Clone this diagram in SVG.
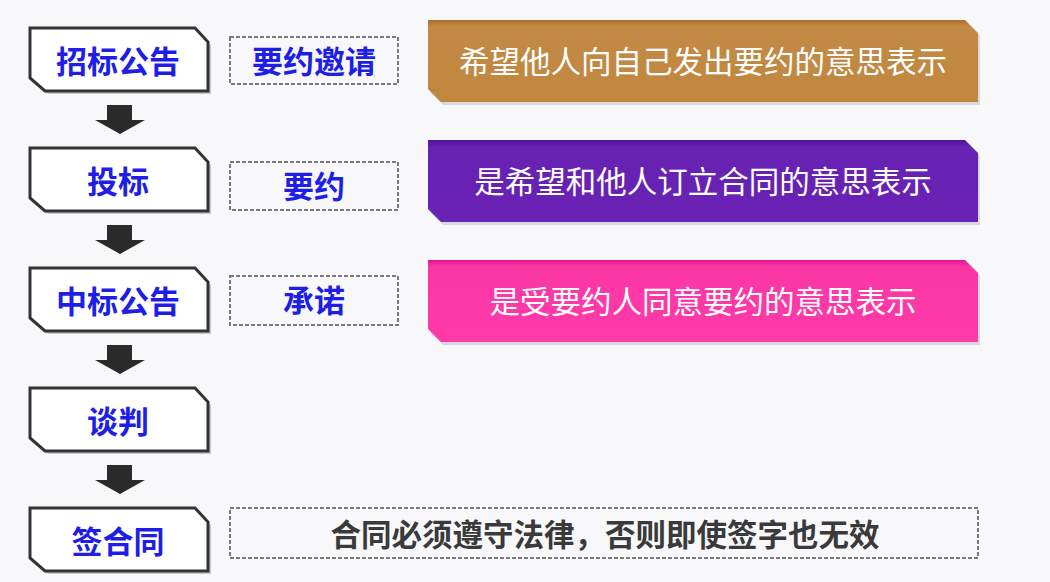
<svg xmlns="http://www.w3.org/2000/svg" width="1050" height="582" viewBox="0 0 1050 582">
<defs>
<style>
.node{fill:#fff;stroke:#333;stroke-width:3;}
.shadow{fill:#c8c8cc;}
.lbl{font-family:"Noto Sans CJK SC","Liberation Sans",sans-serif;font-weight:700;font-size:31px;fill:#1e1ee6;text-anchor:middle;}
.dash{fill:none;stroke:#7a7a7a;stroke-width:2;stroke-dasharray:4 2;}
.desc{font-family:"Noto Sans CJK SC","Liberation Sans",sans-serif;font-weight:400;font-size:30.5px;fill:#fff;text-anchor:middle;}
.note{font-family:"Noto Sans CJK SC","Liberation Sans",sans-serif;font-weight:700;font-size:30.5px;fill:#3a3a3a;text-anchor:middle;}
.arrow{fill:#2b2b2b;}
.boxshadow{fill:#d8d8de;}
</style>
<linearGradient id="gOrange" x1="0" y1="0" x2="0" y2="1">
<stop offset="0" stop-color="#a86e2a"/><stop offset="0.08" stop-color="#c28a45"/><stop offset="1" stop-color="#c0873f"/>
</linearGradient>
<linearGradient id="gPurple" x1="0" y1="0" x2="0" y2="1">
<stop offset="0" stop-color="#4a1690"/><stop offset="0.08" stop-color="#6622b2"/><stop offset="1" stop-color="#6a22b4"/>
</linearGradient>
<linearGradient id="gPink" x1="0" y1="0" x2="0" y2="1">
<stop offset="0" stop-color="#e0158a"/><stop offset="0.08" stop-color="#fb37a6"/><stop offset="1" stop-color="#ff3aa8"/>
</linearGradient>
<path id="nodeShape" d="M30,0 H195 L208,14 V63 H45 L30,50 Z"/>
<path id="descShape" d="M428,0 H965 L978,13 V82 H441 L428,69 Z"/>
</defs>
<rect width="1050" height="582" fill="#f8f8fb"/>

<g id="n1" transform="translate(0,28)">
<use href="#nodeShape" class="shadow" transform="translate(3,3)"/>
<use href="#nodeShape" class="node"/>
<text class="lbl" x="118" y="45">招标公告</text>
</g>
<g id="n2" transform="translate(0,148)">
<use href="#nodeShape" class="shadow" transform="translate(3,3)"/>
<use href="#nodeShape" class="node"/>
<text class="lbl" x="118" y="45">投标</text>
</g>
<g id="n3" transform="translate(0,268)">
<use href="#nodeShape" class="shadow" transform="translate(3,3)"/>
<use href="#nodeShape" class="node"/>
<text class="lbl" x="118" y="45">中标公告</text>
</g>
<g id="n4" transform="translate(0,388)">
<use href="#nodeShape" class="shadow" transform="translate(3,3)"/>
<use href="#nodeShape" class="node"/>
<text class="lbl" x="118" y="45">谈判</text>
</g>
<g id="n5" transform="translate(0,508)">
<use href="#nodeShape" class="shadow" transform="translate(3,3)"/>
<use href="#nodeShape" class="node"/>
<text class="lbl" x="118" y="45">签合同</text>
</g>

<g id="connectors">
<path class="arrow" d="M107,105 H132 V120 H145 L120,134 L95,120 H107 Z"/>
<path class="arrow" d="M107,225 H132 V240 H145 L120,254 L95,240 H107 Z"/>
<path class="arrow" d="M107,345 H132 V360 H145 L120,374 L95,360 H107 Z"/>
<path class="arrow" d="M107,465 H132 V480 H145 L120,494 L95,480 H107 Z"/>
</g>

<g id="t1">
<rect class="dash" x="230" y="37" width="168" height="47"/>
<text class="lbl" x="314" y="73">要约邀请</text>
</g>
<g id="t2">
<rect class="dash" x="230" y="162" width="168" height="48"/>
<text class="lbl" x="314" y="198">要约</text>
</g>
<g id="t3">
<rect class="dash" x="230" y="276" width="168" height="49"/>
<text class="lbl" x="314" y="312">承诺</text>
</g>

<g id="d1" transform="translate(0,20)">
<use href="#descShape" class="boxshadow" transform="translate(2,3)"/>
<use href="#descShape" fill="url(#gOrange)"/>
<text class="desc" x="703" y="53">希望他人向自己发出要约的意思表示</text>
</g>
<g id="d2" transform="translate(0,140)">
<use href="#descShape" class="boxshadow" transform="translate(2,3)"/>
<use href="#descShape" fill="url(#gPurple)"/>
<text class="desc" x="703" y="53">是希望和他人订立合同的意思表示</text>
</g>
<g id="d3" transform="translate(0,260)">
<use href="#descShape" class="boxshadow" transform="translate(2,3)"/>
<use href="#descShape" fill="url(#gPink)"/>
<text class="desc" x="703" y="53">是受要约人同意要约的意思表示</text>
</g>

<g id="note">
<rect class="dash" x="230" y="508" width="748" height="50"/>
<text class="note" x="605" y="546">合同必须遵守法律，否则即使签字也无效</text>
</g>
</svg>
